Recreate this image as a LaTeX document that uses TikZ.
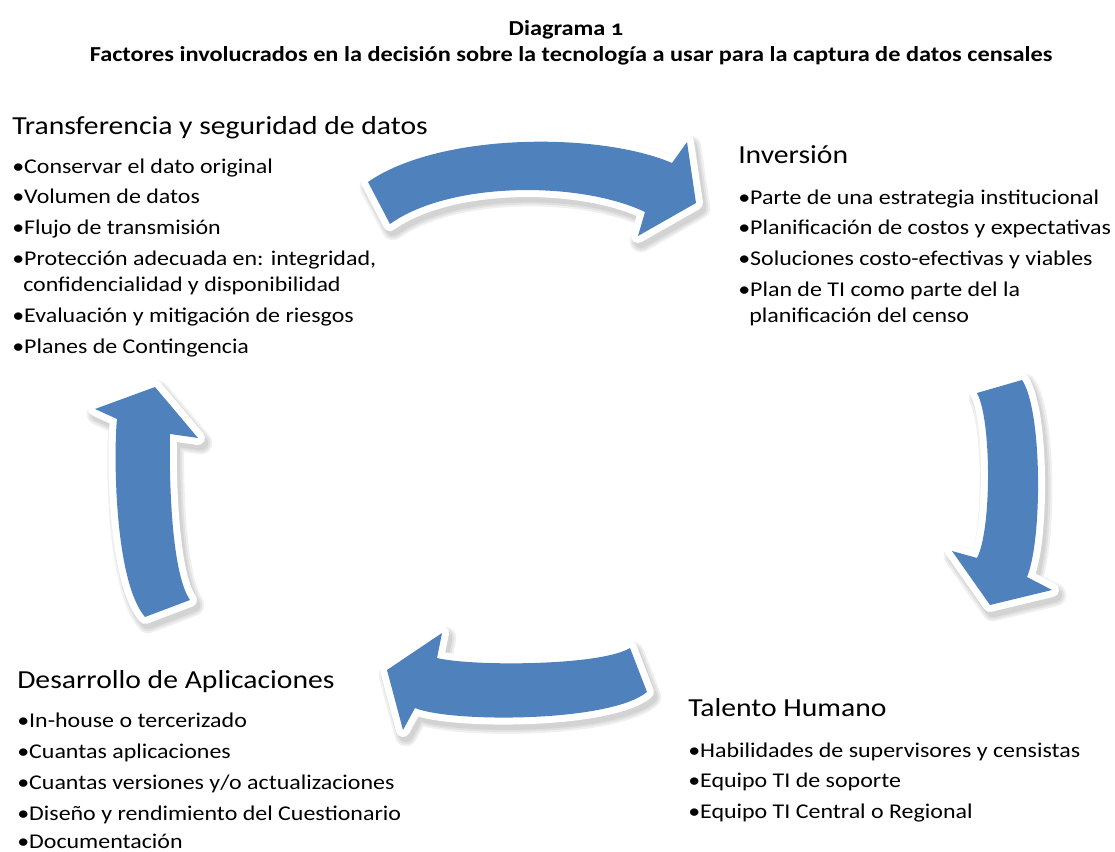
\documentclass[tikz,border=0pt]{standalone}
\usepackage{fontspec}
\setmainfont{Carlito}[FakeStretch=1.14]
\definecolor{arrowblue}{HTML}{4F81BD}
\tikzset{
  li/.style={anchor=base west, inner sep=0pt, font=\fontsize{15.75}{19}\selectfont},
  hd/.style={anchor=base west, inner sep=0pt, font=\fontsize{19.5}{23}\selectfont},
  ttl/.style={anchor=base, inner sep=0pt, font=\bfseries\fontsize{16}{18}\selectfont},
  shadowlayer/.style={draw=black, fill=black, line join=round, opacity=0.06},
  rim/.style={draw=white, fill=white, line width=10.5pt, line join=round},
  body/.style={fill=arrowblue, draw=none},
}
\newcommand\blockarrow[1]{%
  \begin{scope}[shift={(3,5)}]
    \path[shadowlayer, line width=17pt] #1;
    \path[shadowlayer, line width=14pt] #1;
    \path[shadowlayer, line width=11pt] #1;
  \end{scope}
  \path[rim] #1;
  \path[body] #1;
}
\begin{document}
\begin{tikzpicture}[x=0.75pt, y=-0.75pt]
\useasboundingbox[fill=white] (0,0) rectangle (1115,852);

% arrows
\blockarrow{(368,182) .. controls (440,132) and (600,132) .. (672,163) -- (687,142) -- (696,203) -- (638,236) -- (645,212) .. controls (580,181) and (450,181) .. (390,224) -- cycle}
\blockarrow{(977,393) .. controls (991.7,420) and (991.7,530) .. (977,558) -- (952,551) -- (990,605) -- (1052,590) -- (1027,577) .. controls (1042.5,540) and (1042.5,410) .. (1022,380) -- cycle}
\blockarrow{(630,648) .. controls (600,666.3) and (470,666.3) .. (437,658) -- (442,633) -- (387,670) -- (403,730) -- (415,708) .. controls (450,722.7) and (610,722.7) .. (647,692) -- cycle}
\blockarrow{(145,617) .. controls (113.7,580) and (113.7,450) .. (117,419) -- (95,409) -- (155,387) -- (198,438) -- (170,434) .. controls (169.3,460) and (169.3,570) .. (190,600) -- cycle}

% title
\node[ttl] (t1) at (566,36) {Diagrama {\addfontfeatures{Numbers=OldStyle}1}};
\node[ttl] (t2) at (571,62) {Factores involucrados en la decisión sobre la tecnología a usar para la captura de datos censales};

% top left
\node[hd] (hTL) at (12,135) {Transferencia y seguridad de datos};
\node[li] (tl1) at (12,174) {•Conservar el dato original};
\node[li] (tl2) at (12,204) {•Volumen de datos};
\node[li] (tl3) at (12,235) {•Flujo de transmisión};
\node[li] (tl4) at (12,266) {•Protección adecuada en: integridad,};
\node[li] (tl5) at (23,292) {confidencialidad y disponibilidad};
\node[li] (tl6) at (12,323) {•Evaluación y mitigación de riesgos};
\node[li] (tl7) at (12,354) {•Planes de Contingencia};

% top right
\node[hd] (hTR) at (738,164) {Inversión};
\node[li] (tr1) at (738,205) {•Parte de una estrategia institucional};
\node[li] (tr2) at (738,235) {•Planificación de costos y expectativas};
\node[li] (tr3) at (738,266) {•Soluciones costo-efectivas y viables};
\node[li] (tr4) at (738,297) {•Plan de TI como parte del la};
\node[li] (tr5) at (749,323) {planificación del censo};

% bottom right
\node[hd] (hBR) at (688,716) {Talento Humano};
\node[li] (br1) at (688,757) {•Habilidades de supervisores y censistas};
\node[li] (br2) at (688,787) {•Equipo TI de soporte};
\node[li] (br3) at (688,818) {•Equipo TI Central o Regional};

% bottom left
\node[hd] (hBL) at (17,688) {Desarrollo de Aplicaciones};
\node[li] (bl1) at (17,727) {•In-house o tercerizado};
\node[li] (bl2) at (17,758) {•Cuantas aplicaciones};
\node[li] (bl3) at (17,789) {•Cuantas versiones y/o actualizaciones};
\node[li] (bl4) at (17,820) {•Diseño y rendimiento del Cuestionario};
\node[li] (bl5) at (17,848) {•Documentación};
\end{tikzpicture}
\end{document}
